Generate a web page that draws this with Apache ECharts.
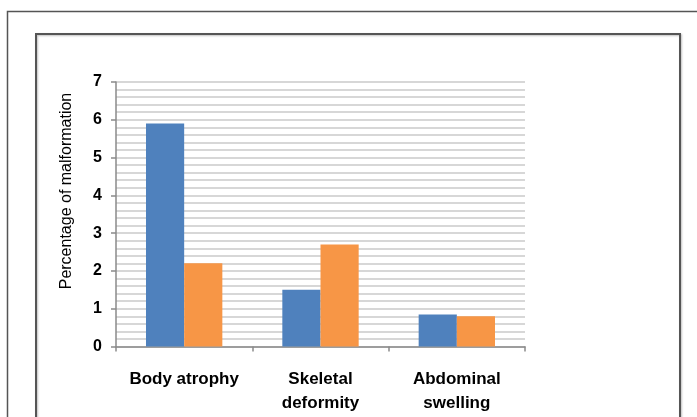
<!DOCTYPE html>
<html>
<head>
<meta charset="utf-8">
<script src="https://cdn.jsdelivr.net/npm/echarts@6/dist/echarts.min.js"></script>
<style>html,body{margin:0;padding:0;background:#fff;}#c{width:697px;height:417px;}</style>
</head>
<body>
<div id="c"></div>
<script>
var categories = ['Body atrophy', 'Skeletal\ndeformity', 'Abdominal\nswelling'];
var seriesA = [5.9, 1.5, 0.85];
var seriesB = [2.2, 2.7, 0.8];
var yTitle = 'Percentage of malformation';

var chart = echarts.init(document.getElementById('c'), null, {renderer: 'canvas'});
chart.setOption({
  backgroundColor: '#ffffff',
  animation: false,
  grid: {left: 116, right: 172, top: 82, bottom: 70.5, containLabel: false},
  xAxis: {
    type: 'category',
    data: categories,
    axisLine: {show: true, lineStyle: {color: '#8a8a8a', width: 1.5}},
    axisTick: {show: true, length: 5, alignWithLabel: false, lineStyle: {color: '#8a8a8a', width: 1.5}},
    axisLabel: {margin: 21, color: '#000', fontFamily: 'Liberation Sans', fontWeight: 'bold', fontSize: 17, lineHeight: 24, interval: 0},
    splitLine: {show: false}
  },
  yAxis: {
    type: 'value',
    min: 0, max: 7, interval: 1,
    axisLine: {show: true, lineStyle: {color: '#8a8a8a', width: 1.5}},
    axisTick: {show: true, length: 5, lineStyle: {color: '#8a8a8a', width: 1.5}},
    axisLabel: {margin: 14, color: '#000', fontFamily: 'Liberation Sans', fontWeight: 'bold', fontSize: 16},
    splitLine: {show: true, lineStyle: {color: '#cacaca', width: 1.6}},
    minorTick: {show: false, splitNumber: 5},
    minorSplitLine: {show: true, lineStyle: {color: '#cacaca', width: 1.6}}
  },
  series: [
    {type: 'bar', data: seriesA, barGap: '0%', barCategoryGap: '44%', itemStyle: {color: '#4F81BD'}},
    {type: 'bar', data: seriesB, barGap: '0%', barCategoryGap: '44%', itemStyle: {color: '#F79646'}}
  ],
  graphic: [
    {type: 'rect', shape: {x: 7.5, y: 11.5, width: 720, height: 440}, style: {fill: 'none', stroke: '#555', lineWidth: 1.5}, silent: true},
    {type: 'rect', shape: {x: 36, y: 34, width: 644, height: 420}, style: {fill: 'none', stroke: '#555', lineWidth: 2, shadowColor: 'rgba(0,0,0,0.25)', shadowBlur: 2, shadowOffsetX: 1, shadowOffsetY: 1}, silent: true},
    {type: 'text', x: 67, y: 191, rotation: Math.PI / 2,
     style: {text: yTitle, x: 0, y: 0, align: 'center', verticalAlign: 'middle', fill: '#000', font: '16px "Liberation Sans"'}, silent: true}
  ]
});
</script>
</body>
</html>
